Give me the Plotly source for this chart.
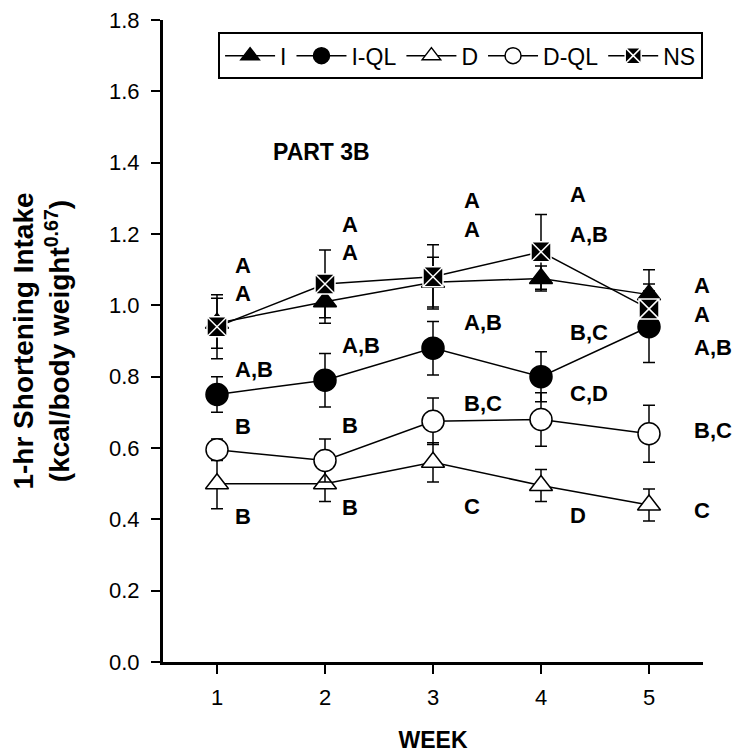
import plotly.graph_objects as go

weeks = [1, 2, 3, 4, 5]
y_ticks = [0.0, 0.2, 0.4, 0.6, 0.8, 1.0, 1.2, 1.4, 1.6, 1.8]

i_vals = [0.95, 1.01, 1.065, 1.075, 1.03]
i_err = [0.07, 0.06, 0.07, 0.035, 0.07]
iql_vals = [0.75, 0.79, 0.88, 0.80, 0.94]
iql_err = [0.05, 0.075, 0.075, 0.07, 0.10]
d_vals = [0.50, 0.50, 0.56, 0.495, 0.44]
d_err = [0.07, 0.05, 0.055, 0.045, 0.045]
dql_vals = [0.595, 0.565, 0.675, 0.68, 0.64]
dql_err = [0.03, 0.06, 0.065, 0.075, 0.08]
ns_vals = [0.94, 1.06, 1.08, 1.15, 0.99]
ns_err = [0.09, 0.095, 0.09, 0.105, 0.07]

# significance letters per week (text, y position in data units)
letters = {
    1: [("A", 1.113), ("A", 1.034), ("A,B", 0.819), ("B", 0.659), ("B", 0.409)],
    2: [("A", 1.228), ("A", 1.147), ("A,B", 0.886), ("B", 0.662), ("B", 0.432)],
    3: [("A", 1.295), ("A", 1.214), ("A,B", 0.953), ("B,C", 0.726), ("C", 0.437)],
    4: [("A", 1.312), ("A,B", 1.20), ("B,C", 0.925), ("C,D", 0.754), ("D", 0.412)],
    5: [("A", 1.057), ("A", 0.973), ("A,B", 0.883), ("B,C", 0.650), ("C", 0.426)],
}
letter_x = {1: 1.15, 2: 2.14, 3: 3.27, 4: 4.25, 5: 5.4}

FONT = "Arial, Liberation Sans, sans-serif"

series = [
    ("I", i_vals, i_err, "triangle-up", "black", 20),
    ("I-QL", iql_vals, iql_err, "circle", "black", 22),
    ("D", d_vals, d_err, "triangle-up", "white", 20),
    ("D-QL", dql_vals, dql_err, "circle", "white", 22),
    ("NS", ns_vals, ns_err, "square-x", "black", 20),
]

fig = go.Figure()
for name, vals, err, sym, fill, size in series:
    mline = dict(color="white" if name == "NS" else "black", width=1.5)
    fig.add_trace(go.Scatter(
        x=weeks, y=vals, name=name,
        mode="lines+markers",
        line=dict(color="black", width=1.5),
        marker=dict(symbol=sym, size=size, color=fill, line=mline),
        error_y=dict(type="data", array=err, color="black", thickness=1.5, width=6),
    ))

annotations = []
for wk, items in letters.items():
    for txt, yv in items:
        annotations.append(dict(x=letter_x[wk], y=yv, text="<b>" + txt + "</b>", showarrow=False,
                                xanchor="left", yanchor="middle",
                                font=dict(family=FONT, size=22, color="black")))
annotations.append(dict(x=1.5, y=1.43, text="<b>PART 3B</b>", showarrow=False,
                        xanchor="left", yanchor="middle",
                        font=dict(family=FONT, size=23, color="black")))

# the page body adds an 8px offset, so the figure is a bit smaller than the window
fig.update_layout(
    width=737, height=748,
    margin=dict(l=155, r=42, t=12, b=94),
    paper_bgcolor="white", plot_bgcolor="white",
    font=dict(family=FONT, color="black"),
    showlegend=True,
    legend=dict(orientation="h", x=0.102, xanchor="left", y=0.981, yanchor="top",
                bordercolor="black", borderwidth=2, bgcolor="white",
                font=dict(size=23, family=FONT), itemwidth=50),
    annotations=annotations,
    xaxis=dict(range=[0.5, 5.5], tickvals=weeks, showgrid=False, zeroline=False,
               showline=True, linecolor="black", linewidth=3, automargin=False,
               ticks="outside", ticklen=9, tickwidth=2, tickcolor="black",
               tickfont=dict(size=22), ticklabelstandoff=5,
               title=dict(text="<b>WEEK</b>", font=dict(size=23), standoff=23)),
    yaxis=dict(range=[0, 1.8], tickvals=y_ticks, tickformat=".1f", showgrid=False, zeroline=False,
               showline=True, linecolor="black", linewidth=3, automargin=False,
               ticks="outside", ticklen=9, tickwidth=2, tickcolor="black",
               tickfont=dict(size=22), ticklabelstandoff=7, ticklabeloverflow="allow",
               title=dict(text="<b>1-hr Shortening Intake<br>(kcal/body weight<sup>0.67</sup>)</b>",
                          font=dict(size=28), standoff=38)),
)

fig.write_html("out.html")
